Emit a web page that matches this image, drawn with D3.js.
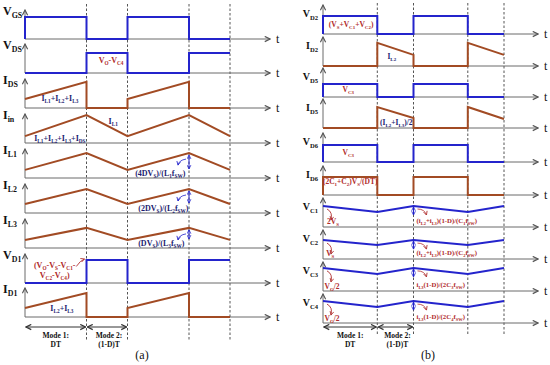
<!DOCTYPE html>
<html>
<head>
<meta charset="utf-8">
<script src="https://cdn.jsdelivr.net/npm/d3@7"></script>
<style>
  body { margin: 0; background: #fff; }
  svg { display: block; }
</style>
</head>
<body>
<div id="chart"></div>
<script>
// ---- data: waveforms as [t (in periods), level (fraction of row height)] ----
const labelsA = ["V_{GS}", "V_{DS}", "I_{DS}", "I_{in}", "I_{L1}", "I_{L2}", "I_{L3}", "V_{D1}", "I_{D1}"];
const vGS = [[0,0],[0,.73],[.6,.73],[.6,0],[1,0],[1,.73],[1.6,.73],[1.6,0],[2,0]];
const vDS = [[0,0],[.6,0],[.6,.67],[1,.67],[1,0],[1.6,0],[1.6,.67],[2,.67]];
const iDS = [[0,.3],[.6,.87],[.6,0],[1,0],[1,.3],[1.6,.87],[1.6,0],[2,0]];
const iIn = [[0,.23],[.6,.93],[1,.23],[1.6,.93],[2,.23]];
const iL1 = [[0,.27],[.6,.83],[1,.27],[1.6,.83],[2,.27]];
const iL2 = [[0,.3],[.6,.8],[1,.3],[1.6,.8],[2,.3]];
const iL3 = [[0,.27],[.6,.67],[1,.27],[1.6,.67],[2,.27]];
const vD1 = [[0,0],[.6,0],[.6,.77],[1,.77],[1,0],[1.6,0],[1.6,.77],[2,.77]];
const iD1 = [[0,.3],[.6,.8],[.6,0],[1,0],[1,.3],[1.6,.8],[1.6,0],[2,0]];

const labelsB = ["V_{D2}", "I_{D2}", "V_{D5}", "I_{D5}", "V_{D6}", "I_{D6}", "V_{C1}", "V_{C2}", "V_{C3}", "V_{C4}"];
const vD2 = [[0,0],[0,.6],[.6,.6],[.6,0],[1,0],[1,.6],[1.6,.6],[1.6,0],[2,0]];
const iD2 = [[0,0],[.6,0],[.6,.77],[1,.37],[1,0],[1.6,0],[1.6,.77],[2,.37]];
const vD5 = [[0,0],[0,.43],[.6,.43],[.6,0],[1,0],[1,.43],[1.6,.43],[1.6,0],[2,0]];
const iD5 = [[0,0],[.6,0],[.6,.7],[1,.33],[1,0],[1.6,0],[1.6,.7],[2,.3]];
const vD6 = [[0,0],[0,.57],[.6,.57],[.6,0],[1,0],[1,.57],[1.6,.57],[1.6,0],[2,0]];
const iD6 = [[0,0],[0,.6],[.6,.6],[.6,0],[1,0],[1,.6],[1.6,.6],[1.6,0],[2,0]];
const vC1 = [[0,.7],[.6,.5],[1,.7],[1.6,.5],[2,.7]];
const vC2 = [[0,.63],[.6,.47],[1,.63],[1.6,.47],[2,.63]];
const vC3 = [[0,.77],[.6,.57],[1,.77],[1.6,.57],[2,.77]];
const vC4 = [[0,.73],[.6,.53],[1,.73],[1.6,.53],[2,.73]];

const switchTimes = [0.6, 1, 1.6, 2];
const modeLabels = [["Mode 1:", "DT"], ["Mode 2:", "(1-D)T"]];
const modeSpans = [[0, .6], [.6, 1]];

// annotation texts (t, level within their row)
const notesA = [
  {row: 1, t: .84, v: .33, text: "V_{O}-V_{C4}", c: "r"},
  {row: 2, t: .34, v: .23, text: "I_{L1}+I_{L2}+I_{L3}", c: "n"},
  {row: 3, t: .86, v: .63, text: "I_{L1}", c: "n"},
  {row: 3, t: .34, v: .07, text: "I_{L1}+I_{L2}+I_{L3}+I_{DS}", c: "n"},
  {row: 4, t: 1.32, v: .07, text: "(4DV_{S})/(L_{1}f_{SW})", c: "n"},
  {row: 5, t: 1.35, v: .07, text: "(2DV_{S})/(L_{2}f_{SW})", c: "n"},
  {row: 6, t: 1.33, v: .07, text: "(DV_{S})/(L_{3}f_{SW})", c: "n"},
  {row: 7, t: .29, v: .5, text: "(V_{O}-V_{S}-V_{C1}-", c: "r"},
  {row: 7, t: .29, v: .17, text: "V_{C2}-V_{C4})", c: "r"},
  {row: 8, t: .36, v: .2, text: "I_{L2}+I_{L3}", c: "n"}
];
const notesB = [
  {row: 0, t: .31, v: .23, text: "(V_{S}+V_{C1}+V_{C2})", c: "r"},
  {row: 1, t: .76, v: .23, text: "I_{L2}", c: "n"},
  {row: 2, t: .28, v: .17, text: "V_{C3}", c: "r"},
  {row: 3, t: .81, v: .1, text: "(I_{L2}+I_{L3})/2", c: "n"},
  {row: 4, t: .28, v: .23, text: "V_{C3}", c: "r"},
  {row: 5, t: .3, v: .37, text: "(2C_{1}+C_{2})V_{S}/(DT)", c: "r"},
  {row: 6, t: .11, v: .1, text: "2V_{S}", c: "r"},
  {row: 7, t: .08, v: .1, text: "V_{S}", c: "r"},
  {row: 8, t: .1, v: .07, text: "V_{O}/2", c: "r"},
  {row: 9, t: .1, v: .07, text: "V_{O}/2", c: "r"}
];
const formulasB = [
  {row: 6, text: "(i_{L2}+i_{L3})(1-D)/(C_{1}f_{SW})"},
  {row: 7, text: "(i_{L2}+i_{L3})(1-D)/(C_{2}f_{SW})"},
  {row: 8, text: "i_{L3}(1-D)/(2C_{3}f_{SW})"},
  {row: 9, text: "i_{L3}(1-D)/(2C_{4}f_{SW})"}
];

// ---- layout ----
const W = 550, H = 365;
const BLUE = "#2424cc", BROWN = "#a24b24", AXIS = "#6a6a6a";
const TXT = {r: "#b02a2a", n: "#1c1c70"};
const FONT = "'Liberation Serif', 'Times New Roman', serif";

const panelA = {
  x: d3.scaleLinear().domain([0, 2]).range([25, 230]),
  axisEnd: 270, tX: 276, labelX: 3, labelAnchor: "start", labelSize: 12,
  bases: [39, 73, 108, 143, 178, 213, 248, 283, 317],
  rows: [vGS, vDS, iDS, iIn, iL1, iL2, iL3, vD1, iD1],
  colors: [BLUE, BLUE, BROWN, BROWN, BROWN, BROWN, BROWN, BLUE, BROWN],
  labels: labelsA, dashTop: 4, dashBottom: 340, modeY: 327, tag: "(a)", tagX: 142
};
const panelB = {
  x: d3.scaleLinear().domain([0, 2]).range([323, 504]),
  axisEnd: 538, tX: 544, labelX: 318, labelAnchor: "end", labelSize: 10,
  bases: [34, 66, 97, 128, 162, 195, 227, 259, 291, 323],
  rows: [vD2, iD2, vD5, iD5, vD6, iD6, vC1, vC2, vC3, vC4],
  colors: [BLUE, BROWN, BLUE, BROWN, BLUE, BROWN, BLUE, BLUE, BLUE, BLUE],
  labels: labelsB, dashTop: 3, dashBottom: 334, modeY: 327, tag: "(b)", tagX: 428
};

const svg = d3.select("#chart").append("svg").attr("width", W).attr("height", H);

const defs = svg.append("defs");
function marker(id, color, size) {
  defs.append("marker").attr("id", id)
    .attr("viewBox", "0 0 8 8").attr("refX", 7).attr("refY", 4)
    .attr("markerWidth", size).attr("markerHeight", size)
    .attr("markerUnits", "userSpaceOnUse").attr("orient", "auto-start-reverse")
    .append("path").attr("d", "M1,1 L7,4 L1,7")
    .attr("fill", "none").attr("stroke", color).attr("stroke-width", 1.3);
}
marker("ax", "#555", 7);
marker("md", "#333", 7);
marker("bl", BLUE, 5);
marker("rd", "#b03030", 5);

// text with _{sub} parts
function rich(g, x, y, str, size, color, anchor) {
  const t = g.append("text").attr("x", x).attr("y", y)
    .attr("font-family", FONT).attr("font-weight", "bold")
    .attr("font-size", size).attr("fill", color).attr("text-anchor", anchor || "start");
  const shift = size * 0.25;
  let inSub = false;
  str.split(/(_\{[^}]*\})/).forEach(p => {
    if (!p) return;
    if (p.startsWith("_{")) {
      t.append("tspan").text(p.slice(2, -1)).attr("font-size", size * 0.66)
        .attr("dy", inSub ? 0 : shift);
      inSub = true;
    } else {
      t.append("tspan").text(p).attr("dy", inSub ? -shift : 0);
      inSub = false;
    }
  });
  return t;
}

function drawPanel(P) {
  const g = svg.append("g");
  const x = P.x;

  // dashed switching instants
  g.selectAll(".dash").data(switchTimes).join("line")
    .attr("x1", d => x(d)).attr("x2", d => x(d))
    .attr("y1", P.dashTop).attr("y2", P.dashBottom)
    .attr("stroke", "#555").attr("stroke-width", 1).attr("stroke-dasharray", "2.5,2");

  P.rows.forEach((data, i) => {
    const base = P.bases[i];
    const y = d3.scaleLinear().domain([0, 1]).range([base, base - 30]);
    // axes
    g.append("line").attr("x1", x(0)).attr("x2", P.axisEnd).attr("y1", base).attr("y2", base)
      .attr("stroke", AXIS).attr("stroke-width", 1).attr("marker-end", "url(#ax)");
    g.append("line").attr("x1", x(0)).attr("x2", x(0)).attr("y1", base).attr("y2", y(1) + 1)
      .attr("stroke", AXIS).attr("stroke-width", 1).attr("marker-end", "url(#ax)");
    g.append("text").attr("x", P.tX).attr("y", base + 4).text("t")
      .attr("font-family", FONT).attr("font-size", 12).attr("fill", "#111");
    // waveform
    g.append("path").datum(data)
      .attr("d", d3.line().x(d => x(d[0])).y(d => y(d[1])))
      .attr("fill", "none").attr("stroke", P.colors[i]).attr("stroke-width", 2);
    // row label
    rich(g, P.labelX, base - (P.labelSize === 12 ? 24 : 17), P.labels[i], P.labelSize, "#111", P.labelAnchor);
  });

  // mode arrows
  modeSpans.forEach((s, k) => {
    g.append("line").attr("x1", x(s[0]) + 1).attr("x2", x(s[1]) - 1)
      .attr("y1", P.modeY).attr("y2", P.modeY)
      .attr("stroke", "#333").attr("stroke-width", 1)
      .attr("marker-start", "url(#md)").attr("marker-end", "url(#md)");
    const cx = (x(s[0]) + x(s[1])) / 2 + (k === 1 ? 2 : 0);
    rich(g, cx, P.modeY + 11, modeLabels[k][0], 7.5, "#111", "middle");
    rich(g, cx, P.modeY + 20, modeLabels[k][1], 7.5, "#111", "middle");
  });

  g.append("text").attr("x", P.tagX).attr("y", 359).text(P.tag)
    .attr("font-family", FONT).attr("font-size", 12).attr("fill", "#111").attr("text-anchor", "middle");
  return g;
}

const gA = drawPanel(panelA);
const gB = drawPanel(panelB);

function rowY(P, row) {
  return d3.scaleLinear().domain([0, 1]).range([P.bases[row], P.bases[row] - 30]);
}

notesA.forEach(n => {
  rich(gA, panelA.x(n.t), rowY(panelA, n.row)(n.v), n.text, 8, TXT[n.c], "middle");
});
notesB.forEach(n => {
  rich(gB, panelB.x(n.t), rowY(panelB, n.row)(n.v), n.text, 7.5, TXT[n.c], "middle");
});
formulasB.forEach(f => {
  rich(gB, panelB.x(1) + 3, rowY(panelB, f.row)(.12), f.text, 6.8, TXT.r, "start");
});

// ripple markers: blue double arrows at the peak instant in the inductor-current rows
[4, 5, 6].forEach(r => {
  const y = rowY(panelA, r), xx = panelA.x(1.6);
  const peak = panelA.rows[r][3][1], low = panelA.rows[r][0][1];
  gA.append("line").attr("x1", xx).attr("x2", xx).attr("y1", y(peak) + 2).attr("y2", y(low) - 1)
    .attr("stroke", BLUE).attr("stroke-width", 1)
    .attr("marker-start", "url(#bl)").attr("marker-end", "url(#bl)");
  gA.append("path").attr("d", `M${xx - 3},${y(peak) + 6} q-7,1 -8,6`)
    .attr("fill", "none").attr("stroke", BLUE).attr("stroke-width", 0.8).attr("marker-end", "url(#bl)");
});
// red curved pointer to V_D1 pulse
{
  const y = rowY(panelA, 7);
  gA.append("path").attr("d", `M${panelA.x(.5)},${y(.55)} q4,-6 ${panelA.x(.6) - panelA.x(.5) - 2},-${y(.55) - y(.8)}`)
    .attr("fill", "none").attr("stroke", "#b03030").attr("stroke-width", 0.9).attr("marker-end", "url(#rd)");
}
// capacitor rows: red curved arrows from the trace down to the level label, blue ripple arrows
[6, 7, 8, 9].forEach(r => {
  const y = rowY(panelB, r), x0 = panelB.x(0), x1 = panelB.x(1);
  const top = panelB.rows[r][0][1];
  gB.append("path").attr("d", `M${x0 + 4},${y(top) + 3} q6,3 4,11`)
    .attr("fill", "none").attr("stroke", "#b03030").attr("stroke-width", 0.9).attr("marker-end", "url(#rd)");
  gB.append("line").attr("x1", x1).attr("x2", x1).attr("y1", y(top) + 1).attr("y2", y(top) + 9)
    .attr("stroke", BLUE).attr("stroke-width", 1)
    .attr("marker-start", "url(#bl)").attr("marker-end", "url(#bl)");
  gB.append("path").attr("d", `M${x1 + 4},${y(top) + 3} q7,0 9,6`)
    .attr("fill", "none").attr("stroke", "#b03030").attr("stroke-width", 0.8).attr("marker-end", "url(#rd)");
});
</script>
</body>
</html>
